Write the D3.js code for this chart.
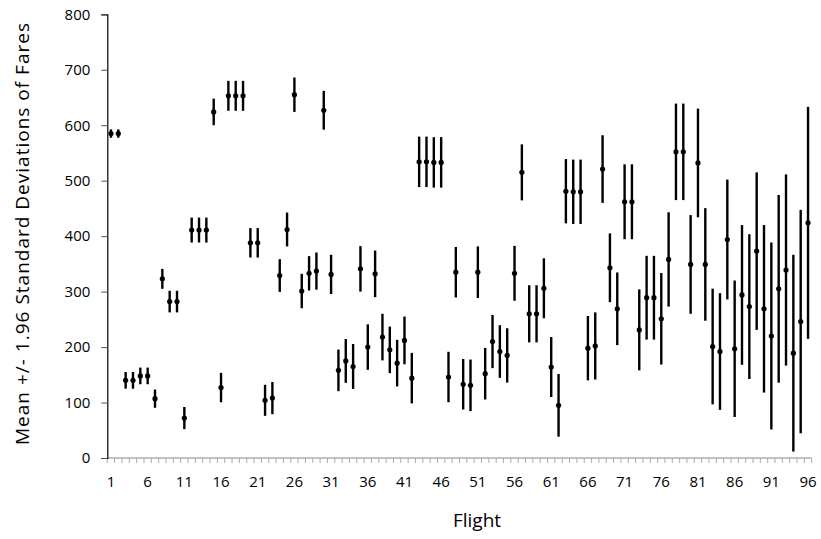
<!DOCTYPE html>
<html><head><meta charset="utf-8">
<script src="https://cdn.jsdelivr.net/npm/d3@7"></script>
<style>body{margin:0;background:#fff}svg{display:block}text{font-family:"Open Sans",sans-serif;fill:#000}</style>
</head><body><svg id="c" width="821" height="539"></svg>
<script>
const flights = d3.range(1, 97);
const means = [585,585,140,140,148,148,107,323,282,282,72,411,411,411,624,127,653,653,653,388,388,104,108,329,412,
655,301,333,337,627,331,158,175,165,341,200,332,218,195,171,212,144,534,534,533,533,146,335,133,131,335,
152,210,192,185,333,515,260,260,306,164,95,481,480,480,198,202,521,343,269,462,462,231,289,289,
251,358,552,552,349,532,349,201,192,394,197,294,273,373,269,220,305,339,189,246,424];
const errs = [7.5,7.5,15,15,15,15,16.5,18,19.5,19.5,20,22.5,22.5,22.5,24,26.5,27,27,27,26.5,26.5,28,29,29.5,30.5,
31,31,31,33.5,35,35.5,37.5,39.5,40.5,41,41,42,42,42,42,43,45.5,45.5,45.5,45.5,45.5,45.5,45.5,45.5,46.5,46.5,
46.5,48,47.5,49,49.5,50.5,51.5,51.5,54,54,56.5,58,58,58,58,60.5,61,62,65.5,67.5,67.5,73,75.5,75.5,
82.5,85,87,87,89,98,101.5,104.3,105.2,108,123,126,130.5,142,151,168.6,169.2,172.3,177.4,201.4,209.2];
const yTicks = [0,100,200,300,400,500,600,700,800];
const xTickLabels = [1,6,11,16,21,26,31,36,41,46,51,56,61,66,71,76,81,86,91,96];
const yTitle = "Mean +/- 1.96 Standard Deviations of Fares";
const xTitle = "Flight";

const svg = d3.select("#c");
const L = 107.3, R = 811.7, T = 14.3, B = 458;
const x = d3.scaleBand().domain(flights).range([L, R]).padding(0);
const y = d3.scaleLinear().domain([0, 800]).range([B, T]);

// x axis
const gx = svg.append("g").attr("transform", `translate(0,${B})`);
gx.append("line").attr("x1", L).attr("x2", R).attr("stroke", "#888").attr("stroke-width", 1);
const bounds = flights.map(f => x(f)).concat([R]);
gx.selectAll("line.tk").data(bounds).join("line").attr("class","tk")
  .attr("x1", d => d).attr("x2", d => d).attr("y1", 0).attr("y2", 5)
  .attr("stroke", "#aaa").attr("stroke-width", 1);
gx.selectAll("text").data(xTickLabels).join("text")
  .attr("x", d => x(d) + x.bandwidth()/2).attr("y", 29.3)
  .attr("text-anchor", "middle").attr("font-size", 15).text(d => d);

// y axis
const gy = svg.append("g").attr("transform", `translate(${L},0)`);
gy.call(d3.axisLeft(y).tickValues(yTicks).tickSize(6).tickPadding(11).tickFormat(d3.format("d")));
gy.select(".domain").attr("stroke", "#000").attr("stroke-width", 1.2);
gy.selectAll(".tick line").attr("stroke", "#555");
gy.selectAll(".tick text").attr("font-size", 15).attr("font-family", "'Open Sans',sans-serif").attr("fill","#000");

// error bars
const data = flights.map((f, i) => ({f, m: means[i], e: errs[i]}));
svg.append("g").selectAll("line").data(data).join("line")
  .attr("x1", d => x(d.f) + x.bandwidth()/2).attr("x2", d => x(d.f) + x.bandwidth()/2)
  .attr("y1", d => y(d.m + d.e)).attr("y2", d => y(d.m - d.e))
  .attr("stroke", "#000").attr("stroke-width", 2.4);
svg.append("g").selectAll("circle").data(data).join("circle")
  .attr("cx", d => x(d.f) + x.bandwidth()/2).attr("cy", d => y(d.m))
  .attr("r", 2.6).attr("fill", "#000");

// titles
svg.append("text").attr("x", 477).attr("y", 526.7).attr("text-anchor","middle")
  .attr("font-size", 19).text(xTitle);
svg.append("text").attr("transform", `translate(28.5,234) rotate(-90)`)
  .attr("text-anchor","middle").attr("font-size", 19)
  .attr("textLength", 422).attr("lengthAdjust", "spacing").text(yTitle);
</script></body></html>
